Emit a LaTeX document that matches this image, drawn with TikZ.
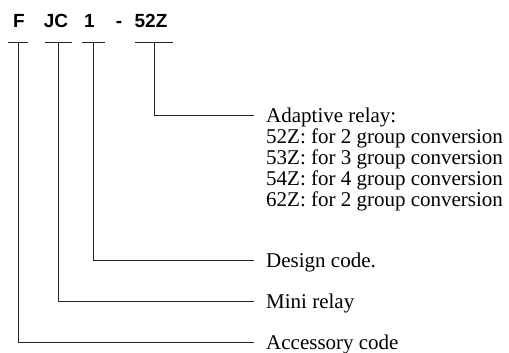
\documentclass[tikz,border=0pt]{standalone}
\usepackage{fontspec}
\setmainfont{Liberation Serif}
\newfontfamily\titlefont{Liberation Sans}
\begin{document}
\begin{tikzpicture}[x=1pt,y=-1pt,
  lbl/.style={anchor=base west,inner sep=0pt,text height=14pt,text depth=0pt,font=\fontsize{21}{21}\selectfont},
  ttl/.style={anchor=base,inner sep=0pt,font=\titlefont\bfseries\fontsize{19}{19}\selectfont},
  bar/.style={inner sep=0pt,minimum height=0pt,minimum width=#1},
  conn/.style={draw=black!85,line width=0.9pt,shorten >=12pt},
  barline/.style={draw=black!85,line width=0.9pt}]
\useasboundingbox (0,0) rectangle (509,353);
% title
\node[ttl] (tF) at (19,28) {F};
\node[ttl] (tJC) at (56,28) {JC};
\node[ttl] (t1) at (89.5,28) {1};
\node[ttl] (tdash) at (119,28) {-};
\node[ttl] (t52) at (151,28) {52Z};
% T bars
\node[bar=20pt] (b1) at (18,42) {};
\node[bar=27pt] (b2) at (58.5,42) {};
\node[bar=22pt] (b3) at (93.5,42) {};
\node[bar=38pt] (b4) at (154,42) {};
\foreach \b in {b1,b2,b3,b4} \draw[barline] (\b.west) -- (\b.east);
% labels
\node[lbl] (l4) at (266,122) {Adaptive relay:};
\node[lbl] (l4a) at (266,143) {52Z: for 2 group conversion};
\node[lbl] (l4b) at (266,164) {53Z: for 3 group conversion};
\node[lbl] (l4c) at (266,185) {54Z: for 4 group conversion};
\node[lbl] (l4d) at (266,206) {62Z: for 2 group conversion};
\node[lbl] (l3) at (266,267) {Design code.};
\node[lbl] (l2) at (266,308) {Mini relay};
\node[lbl] (l1) at (266,349) {Accessory code};
% connectors
\draw[conn] (b4.center) |- (l4.west);
\draw[conn] (b3.center) |- (l3.west);
\draw[conn] (b2.center) |- (l2.west);
\draw[conn] (b1.center) |- (l1.west);
\end{tikzpicture}
\end{document}
